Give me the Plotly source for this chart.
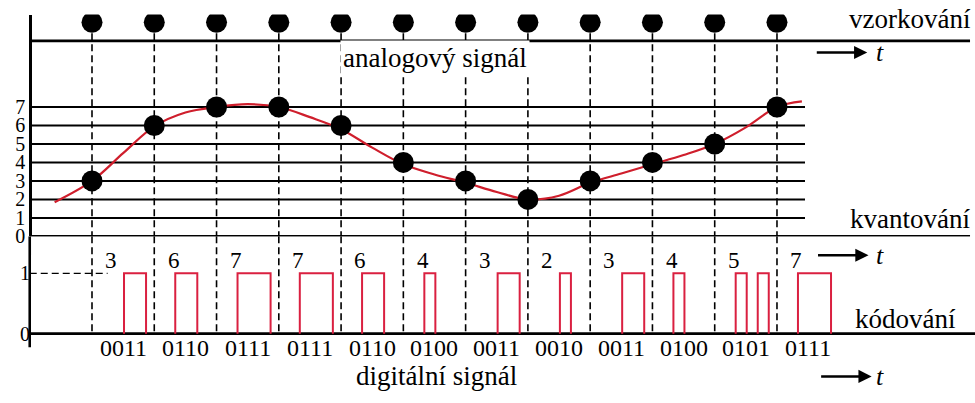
import plotly.graph_objects as go

# ---------------- data ----------------
sample_t = list(range(12))
sample_levels = [3, 6, 7, 7, 6, 4, 3, 2, 3, 4, 5, 7]
codes = ["0011", "0110", "0111", "0111", "0110", "0100",
         "0011", "0010", "0011", "0100", "0101", "0111"]
levels = [0, 1, 2, 3, 4, 5, 6, 7]

curve_t = [-0.6, 0, 0.5, 1, 1.5, 2, 2.5, 3, 3.5, 4, 4.5, 5, 5.5, 6, 6.5,
           7, 7.5, 8, 8.5, 9, 9.5, 10, 10.5, 11, 11.4]
curve_v = [1.85, 3.0, 4.5, 5.95, 6.7, 7.0, 7.15, 7.0, 6.45, 5.8, 4.8, 3.9,
           3.35, 2.9, 2.4, 2.0, 2.2, 2.9, 3.4, 3.9, 4.4, 5.0, 5.9, 7.0, 7.3]

T_AXIS = -1.0
T_GRID_END = 11.45
T_FULL_END = 14.1
TOP_DOT = 11.58
TOP_LINE = 10.58
BIT_W = 0.177
BIT_OFF = 0.16

FONT = "Liberation Serif"
RED_CURVE = "#cf1e2c"
RED_PULSE = "#da2040"

fig = go.Figure()

hx, hy = [], []
for lv in levels:
    end = T_FULL_END if lv == 0 else T_GRID_END
    hx += [T_AXIS, end, None]
    hy += [lv, lv, None]
fig.add_trace(go.Scatter(x=hx, y=hy, mode="lines",
                         line=dict(color="black", width=2), hoverinfo="skip"))
fig.add_trace(go.Scatter(x=[T_AXIS, T_FULL_END, None, T_AXIS, T_FULL_END],
                         y=[0, 0, None, TOP_LINE, TOP_LINE], mode="lines",
                         line=dict(color="black", width=2.6), hoverinfo="skip"))

dx, dy = [], []
for t in sample_t:
    dx += [t, t, None]
    dy += [TOP_DOT, 0, None]
fig.add_trace(go.Scatter(x=dx, y=dy, mode="lines",
                         line=dict(color="black", width=1.6, dash="7px,4px"),
                         hoverinfo="skip"))

fig.add_trace(go.Scatter(x=curve_t, y=curve_v, mode="lines",
                         line=dict(color=RED_CURVE, width=2.2, shape="spline",
                                   smoothing=1.0), hoverinfo="skip"))

fig.add_trace(go.Scatter(x=sample_t, y=sample_levels, mode="markers",
                         marker=dict(color="black", size=21), hoverinfo="skip"))
fig.add_trace(go.Scatter(x=sample_t, y=[TOP_DOT] * len(sample_t), mode="markers",
                         marker=dict(color="black", size=21), hoverinfo="skip"))

Y2_TOP = 100 / 62
Y2_AXIS_BOTTOM = -14 / 62
cx, cy = [], []
for t in sample_t:
    cx += [t, t, None]
    cy += [Y2_TOP, 0, None]
fig.add_trace(go.Scatter(x=cx, y=cy, mode="lines", yaxis="y2",
                         line=dict(color="black", width=1.6, dash="7px,4px"),
                         hoverinfo="skip"))
fig.add_trace(go.Scatter(x=[T_AXIS, 0.25], y=[1, 1], mode="lines", yaxis="y2",
                         line=dict(color="black", width=1.4, dash="7px,4px"),
                         hoverinfo="skip"))
fig.add_trace(go.Scatter(x=[T_AXIS, 14.3, None, T_AXIS, T_AXIS],
                         y=[0, 0, None, Y2_TOP, Y2_AXIS_BOTTOM], mode="lines",
                         yaxis="y2", line=dict(color="black", width=2.6),
                         hoverinfo="skip"))

px_, py_ = [], []
for t, code in zip(sample_t, codes):
    i = 0
    while i < 4:
        if code[i] == "1":
            j = i
            while j + 1 < 4 and code[j + 1] == "1":
                j += 1
            x0 = t + BIT_OFF + i * BIT_W
            x1 = t + BIT_OFF + (j + 1) * BIT_W
            px_ += [x0, x0, x1, x1, None]
            py_ += [0, 1, 1, 0, None]
            i = j + 1
        else:
            i += 1
fig.add_trace(go.Scatter(x=px_, y=py_, mode="lines", yaxis="y2",
                         line=dict(color=RED_PULSE, width=2), hoverinfo="skip"))

ann = []
def txt(x, y, s, size=23, yref="y", xanchor="center", bg=None):
    d = dict(x=x, y=y, xref="x", yref=yref, text=s, showarrow=False,
             xanchor=xanchor, yanchor="middle",
             font=dict(family=FONT, size=size, color="black"))
    if bg:
        d["bgcolor"] = bg
        d["borderpad"] = 2
    ann.append(d)

txt(5.51, 9.63, "analogový signál", size=27, bg="white")
txt(13.13, 11.74, "vzorkování", size=27)
txt(13.13, 0.92, "kvantování", size=27)
txt(13.07, 0.24, "kódování", size=27, yref="y2")
txt(5.54, -0.71, "digitální signál", size=27, yref="y2")

for t, lv, code in zip(sample_t, sample_levels, codes):
    txt(t + 0.31, 1.22, str(lv), size=23, yref="y2")
    txt(t + 0.5, -0.23, code, size=24, yref="y2")

def arrow(x_head, y, yref, t_x):
    ann.append(dict(x=x_head, y=y, xref="x", yref=yref, ax=-52, ay=0,
                    showarrow=True, arrowhead=2, arrowsize=1.1, arrowwidth=2.4,
                    arrowcolor="black", text=""))
    ann.append(dict(x=t_x, y=y, xref="x", yref=yref, text="t", showarrow=False,
                    xanchor="center", yanchor="middle",
                    font=dict(family=FONT, size=26, color="black", style="italic")))

arrow(12.45, 9.95, "y", 12.65)
arrow(12.47, 1.3, "y2", 12.66)
arrow(12.52, -0.71, "y2", 12.65)

fig.update_layout(
    width=975, height=403,
    margin=dict(l=0, r=0, t=0, b=0),
    paper_bgcolor="white", plot_bgcolor="white",
    showlegend=False,
    annotations=ann,
    xaxis=dict(range=[-1.4774, 14.180], visible=False, fixedrange=True),
    yaxis=dict(domain=[1 - 243 / 403, 1 - 15 / 403], range=[0, 12],
               anchor="free", position=30 / 975, showline=True,
               linecolor="black", linewidth=2.6, showgrid=False, zeroline=False,
               tickmode="array", tickvals=levels, ticktext=[str(v) for v in levels],
               ticks="", tickfont=dict(family=FONT, size=20, color="black"),
               fixedrange=True),
    yaxis2=dict(domain=[0, 1 - 243 / 403], range=[-60 / 62, Y2_TOP],
                anchor="free", position=30 / 975, showline=False,
                showgrid=False, zeroline=False,
                tickmode="array", tickvals=[0, 1], ticktext=["0", "1"],
                ticks="", tickfont=dict(family=FONT, size=20, color="black"),
                fixedrange=True),
)

fig.write_html(
    "out.html",
    config={"displayModeBar": False},
    post_script=("document.documentElement.style.margin='0';"
                 "document.body.style.margin='0';"
                 "var g=document.getElementsByClassName('plotly-graph-div')[0];"
                 "g.style.position='fixed';g.style.left='0';g.style.top='0';"),
)
